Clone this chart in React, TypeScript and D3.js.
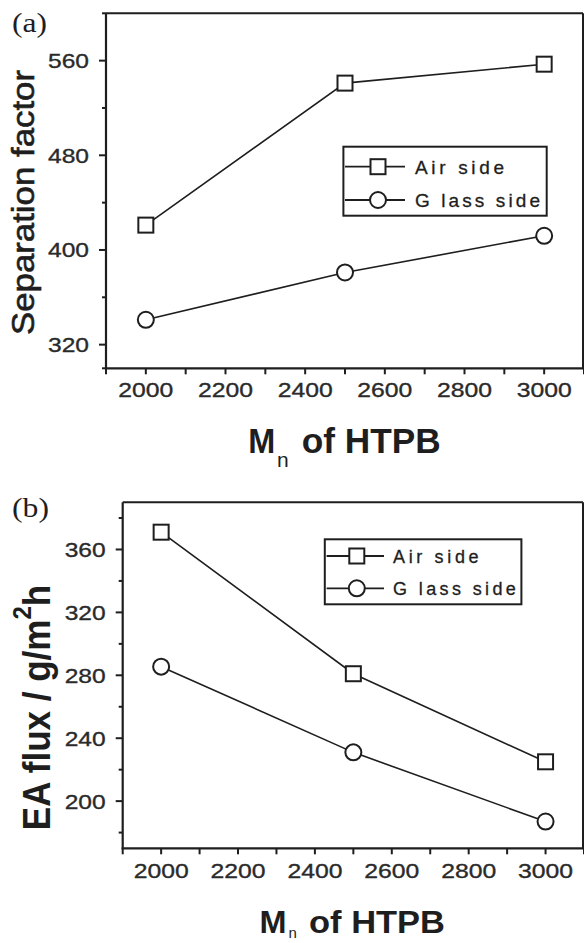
import React from "react";
import * as d3 from "d3";

// ---- data ----
const mnValues = [2000, 2500, 3000];
const sepAir = [421, 541, 557];
const sepGlass = [341, 381, 412];
const fluxAir = [371, 281, 225];
const fluxGlass = [285.5, 231, 187];
const xTickLabels = [2000, 2200, 2400, 2600, 2800, 3000];
const xMinorTicks = [1900, 2000, 2100, 2200, 2300, 2400, 2500, 2600, 2700, 2800, 2900, 3000, 3100];
const sepTickLabels = [320, 400, 480, 560];
const sepMinorTicks = [300, 360, 440, 520, 600];
const fluxTickLabels = [200, 240, 280, 320, 360];
const fluxMinorTicks = [180, 220, 260, 300, 340, 380];
const legendNames = ["Air side", "G lass side"];

const INK = "#1e1e1e";
const SANS = "'Liberation Sans', Arial, sans-serif";
const SERIF = "'Liberation Serif', 'Times New Roman', serif";

type PanelProps = {
  x0: number; yTop: number; yBot: number;
  yDomain: [number, number];
  air: number[]; glass: number[];
  yTicks: number[]; yMinor: number[];
  legend: { x: number; y: number; w: number; h: number; rows: number[]; lineX0: number; lineX1: number; markX: number; textX: number; fs: number; tl: number[] };
  xLabelY: number;
};

function Square({ cx, cy }: { cx: number; cy: number }) {
  const s = 15;
  return <rect x={cx - s / 2} y={cy - s / 2} width={s} height={s} fill="#fff" stroke={INK} strokeWidth={2} />;
}
function Circle({ cx, cy }: { cx: number; cy: number }) {
  return <circle cx={cx} cy={cy} r={8} fill="#fff" stroke={INK} strokeWidth={2} />;
}

function Panel(p: PanelProps) {
  const x = d3.scaleLinear().domain([1900, 3100]).range([p.x0, 584]);
  const y = d3.scaleLinear().domain(p.yDomain).range([p.yBot, p.yTop]);
  const line = d3.line<number>().x((_, i) => x(mnValues[i])).y((v) => y(v));
  const axisX = p.x0;
  return (
    <g>
      {/* frame */}
      <line x1={axisX} x2={583} y1={p.yTop} y2={p.yTop} stroke={INK} strokeWidth={2} />
      <line x1={583} x2={583} y1={p.yTop} y2={p.yBot} stroke={INK} strokeWidth={2} />
      <line x1={axisX} x2={axisX} y1={p.yTop} y2={p.yBot + 1} stroke={INK} strokeWidth={2.2} />
      <line x1={axisX - 1} x2={584} y1={p.yBot} y2={p.yBot} stroke={INK} strokeWidth={2.2} />
      {/* y ticks */}
      {p.yTicks.map((t) => (
        <g key={"yt" + t}>
          <line x1={axisX - 7} x2={axisX} y1={y(t)} y2={y(t)} stroke={INK} strokeWidth={2} />
          <text x={axisX - 17} y={y(t) + 7.5} textAnchor="end" fontFamily={SANS} fontSize={21} fill="#2a2a2a"
            stroke="#2a2a2a" strokeWidth={0.35}
            textLength={41} lengthAdjust="spacingAndGlyphs">{t}</text>
        </g>
      ))}
      {p.yMinor.map((t) => (
        <line key={"ym" + t} x1={axisX - 4} x2={axisX} y1={y(t)} y2={y(t)} stroke={INK} strokeWidth={2} />
      ))}
      {/* x ticks */}
      {xMinorTicks.map((t) => (
        <line key={"xm" + t} x1={x(t)} x2={x(t)} y1={p.yBot} y2={p.yBot + 6} stroke={INK} strokeWidth={2} />
      ))}
      {xTickLabels.map((t) => (
        <text key={"xl" + t} x={x(t)} y={p.xLabelY} textAnchor="middle" fontFamily={SANS} fontSize={21} fill="#2a2a2a"
          stroke="#2a2a2a" strokeWidth={0.35}
          textLength={55} lengthAdjust="spacingAndGlyphs">{t}</text>
      ))}
      {/* series */}
      <path d={line(p.air) || ""} fill="none" stroke={INK} strokeWidth={1.6} />
      <path d={line(p.glass) || ""} fill="none" stroke={INK} strokeWidth={1.6} />
      {p.air.map((v, i) => <Square key={"a" + i} cx={x(mnValues[i])} cy={y(v)} />)}
      {p.glass.map((v, i) => <Circle key={"g" + i} cx={x(mnValues[i])} cy={y(v)} />)}
      {/* legend */}
      <rect x={p.legend.x} y={p.legend.y} width={p.legend.w} height={p.legend.h} fill="#fff" stroke={INK} strokeWidth={2} />
      {legendNames.map((name, i) => (
        <g key={name}>
          <line x1={p.legend.lineX0} x2={p.legend.lineX1} y1={p.legend.rows[i]} y2={p.legend.rows[i]} stroke={INK} strokeWidth={1.8} />
          {i === 0 ? <Square cx={p.legend.markX} cy={p.legend.rows[i]} /> : <Circle cx={p.legend.markX} cy={p.legend.rows[i]} />}
          <text x={p.legend.textX} y={p.legend.rows[i] + 7} fontFamily={SANS} fontSize={p.legend.fs} fill={INK}
            stroke={INK} strokeWidth={0.3}
            textLength={p.legend.tl[i]} lengthAdjust="spacing">{name}</text>
        </g>
      ))}
    </g>
  );
}

export default function App() {
  return (
    <svg width={584} height={943} style={{ position: "absolute", left: 0, top: 0, background: "#fff" }}>
      <rect x={0} y={0} width={584} height={943} fill="#fff" />
      {/* Panel (a) */}
      <text x={12} y={32} fontFamily={SERIF} fontSize={27} fill={INK} textLength={35} lengthAdjust="spacingAndGlyphs">(a)</text>
      <Panel
        x0={106} yTop={13.3} yBot={368.3} yDomain={[300, 600]}
        air={sepAir} glass={sepGlass}
        yTicks={sepTickLabels} yMinor={sepMinorTicks}
        legend={{ x: 343.4, y: 146.7, w: 203.3, h: 69, rows: [166.7, 200], lineX0: 345, lineX1: 405, markX: 378, textX: 415, fs: 19, tl: [89, 125] }}
        xLabelY={396.5}
      />
      <text transform="translate(34,202.5) rotate(-90)" textAnchor="middle" fontFamily={SANS} fontSize={31} fill={INK}
        stroke={INK} strokeWidth={0.6}
        textLength={265} lengthAdjust="spacingAndGlyphs">Separation factor</text>
      <text x={248.3} y={453.3} fontFamily={SANS} fontWeight="bold" fontSize={35} fill={INK} textLength={27} lengthAdjust="spacingAndGlyphs">M</text>
      <text x={277} y={466.7} fontFamily={SANS} fontSize={21} fill={INK}>n</text>
      <text x={301.7} y={453.3} fontFamily={SANS} fontWeight="bold" fontSize={35} fill={INK} textLength={139} lengthAdjust="spacingAndGlyphs">of HTPB</text>

      {/* Panel (b) */}
      <text x={12} y={517} fontFamily={SERIF} fontSize={27} fill={INK} textLength={37} lengthAdjust="spacingAndGlyphs">(b)</text>
      <Panel
        x0={122.7} yTop={502.3} yBot={848.3} yDomain={[170, 390]}
        air={fluxAir} glass={fluxGlass}
        yTicks={fluxTickLabels} yMinor={fluxMinorTicks}
        legend={{ x: 324.8, y: 539.3, w: 196.6, h: 65, rows: [556, 588.3], lineX0: 326.6, lineX1: 384, markX: 356.8, textX: 393, fs: 18, tl: [85.6, 122.8] }}
        xLabelY={877.5}
      />
      <text transform="translate(50,707.5) rotate(-90) scale(1,1.1)" textAnchor="middle" fontFamily={SANS} fontWeight="bold" fontSize={35} fill={INK}>
        EA flux / g/m<tspan fontSize={24} dy={-17}>2</tspan><tspan dy={17}>h</tspan>
      </text>
      <text x={259.5} y={933} fontFamily={SANS} fontWeight="bold" fontSize={32} fill={INK} textLength={27} lengthAdjust="spacingAndGlyphs">M</text>
      <text x={288.5} y={937.5} fontFamily={SANS} fontSize={15} fill={INK}>n</text>
      <text x={309} y={933} fontFamily={SANS} fontWeight="bold" fontSize={32} fill={INK} textLength={136} lengthAdjust="spacingAndGlyphs">of HTPB</text>
    </svg>
  );
}
